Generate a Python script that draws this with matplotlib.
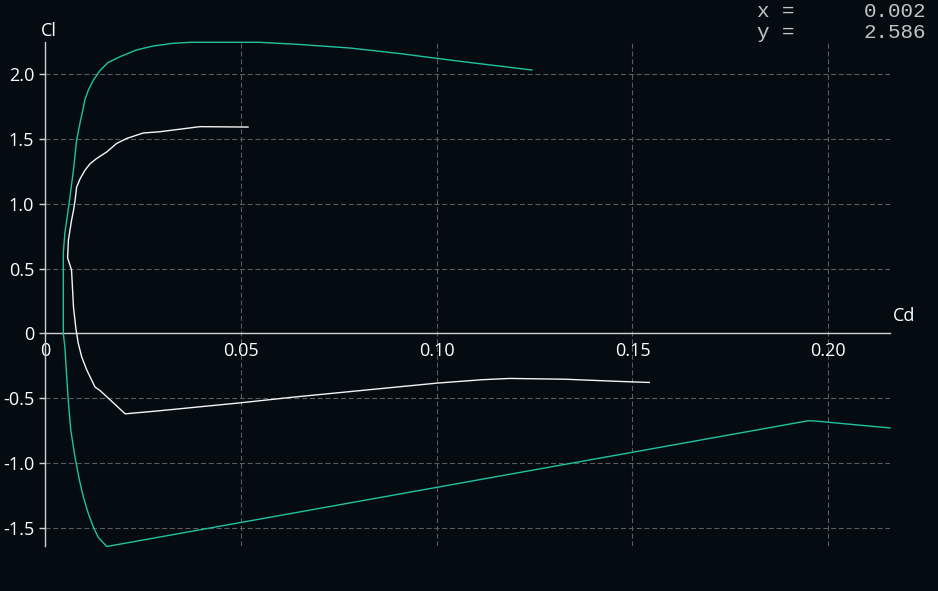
import matplotlib
matplotlib.use('Agg')
import matplotlib.pyplot as plt

# Polar plot, Cl vs Cd, two curves

bg = '#040b11'
green = '#20c39e'
white = '#f4f4f4'

green_cd = [0.1243, 0.1034, 0.0906, 0.0778, 0.0651, 0.0548, 0.0370, 0.0326, 0.0275, 0.0233,
            0.0191, 0.0160, 0.0140, 0.0123, 0.0110, 0.0101, 0.0096, 0.0090, 0.0080, 0.0072,
            0.0061, 0.0050, 0.0046, 0.0046, 0.0050, 0.0058, 0.0065, 0.0075, 0.0087, 0.0097,
            0.0110, 0.0123, 0.0135, 0.0157, 0.1948, 0.1961, 0.2158]
green_cl = [2.033, 2.110, 2.160, 2.203, 2.230, 2.247, 2.247, 2.239, 2.218, 2.188,
            2.136, 2.090, 2.030, 1.956, 1.879, 1.802, 1.726, 1.644, 1.493, 1.262,
            1.007, 0.775, 0.621, 0.0, -0.104, -0.490, -0.745, -0.938, -1.130, -1.259,
            -1.391, -1.495, -1.572, -1.644, -0.674, -0.674, -0.729]

white_cd = [0.0518, 0.0395, 0.0293, 0.0250, 0.0208, 0.0182, 0.0157, 0.0131, 0.0114, 0.0101,
            0.0089, 0.0080, 0.0076, 0.0072, 0.0067, 0.0059, 0.0057, 0.0067, 0.0072, 0.0078,
            0.0084, 0.0093, 0.0106, 0.0127, 0.0140, 0.0157, 0.0204, 0.0279, 0.0499, 0.0631,
            0.0807, 0.1001, 0.1115, 0.1186, 0.1327, 0.1468, 0.1543]
white_cl = [1.593, 1.596, 1.557, 1.547, 1.505, 1.466, 1.401, 1.350, 1.309, 1.258,
            1.194, 1.129, 1.026, 0.949, 0.872, 0.721, 0.583, 0.490, 0.204, 0.042,
            -0.073, -0.181, -0.282, -0.413, -0.441, -0.488, -0.620, -0.600, -0.535, -0.492,
            -0.440, -0.383, -0.357, -0.347, -0.353, -0.370, -0.378]

x_ticks = [0, 0.05, 0.10, 0.15, 0.20]
x_labels = ['0', '0.05', '0.10', '0.15', '0.20']
y_ticks = [2.0, 1.5, 1.0, 0.5, 0, -0.5, -1.0, -1.5]
y_labels = ['2.0', '1.5', '1.0', '0.5', '0', '-0.5', '-1.0', '-1.5']

readout = [('x =', '0.002'), ('y =', '2.586')]

W, H = 938, 591
fig = plt.figure(figsize=(W / 100, H / 100), dpi=100, facecolor=bg)
ax = fig.add_axes([45.3 / W, (H - 546) / H, (890 - 45.3) / W, (546 - 42.3) / H])
ax.set_facecolor(bg)

ax.plot(green_cd, green_cl, color=green, linewidth=1.0, clip_on=False, zorder=3)
ax.plot(white_cd, white_cl, color=white, linewidth=1.0, clip_on=False, zorder=3)

ax.set_xlim(0, 0.2158)
ax.set_ylim(-1.640, 2.247)

for s in ['top', 'right']:
    ax.spines[s].set_visible(False)
ax.spines['left'].set_position(('data', 0))
ax.spines['bottom'].set_position(('data', 0))
for s in ['left', 'bottom']:
    ax.spines[s].set_color('#cfcfcf')
    ax.spines[s].set_linewidth(1.0)

ax.set_xticks(x_ticks)
ax.set_xticklabels(x_labels)
ax.set_yticks(y_ticks)
ax.set_yticklabels(y_labels)
ax.tick_params(axis='x', length=0, pad=6, labelsize=13, labelcolor='white')
ax.tick_params(axis='y', length=4, width=1, color='#cfcfcf', pad=4, labelsize=13, labelcolor='white')
for lab in ax.get_xticklabels() + ax.get_yticklabels():
    lab.set_fontfamily('Open Sans')

ax.grid(True, color='#5c5c5c', linestyle=(0, (4.5, 2.5)), linewidth=0.8)
ax.set_axisbelow(True)

fig.text(40.5 / W, (H - 22) / H, 'Cl', color='white', fontsize=13, family='Open Sans', ha='left', va='top')
fig.text(893 / W, (H - 316) / H, 'Cd', color='white', fontsize=13, family='Open Sans', ha='left', va='center')

for i, (lhs, rhs) in enumerate(readout):
    yy = (H - 11.5 - 21.5 * i) / H
    fig.text(757 / W, yy, lhs, color='#c4c4c4', fontsize=15, family='Liberation Mono', ha='left', va='center')
    fig.text(926 / W, yy, rhs, color='#c4c4c4', fontsize=15, family='Liberation Mono', ha='right', va='center')

fig.savefig('out.png', dpi=100, facecolor=bg)
